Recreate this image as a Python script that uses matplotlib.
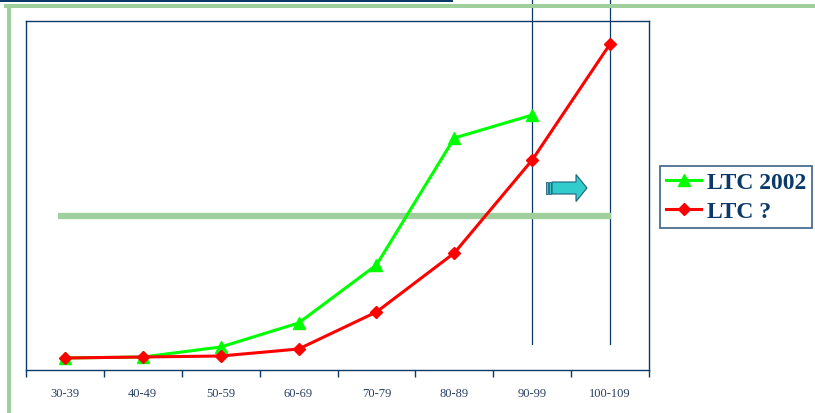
import matplotlib
matplotlib.use("Agg")
import matplotlib.pyplot as plt
import matplotlib.patches as mpatches
from matplotlib.transforms import blended_transform_factory

# age groups and the two curves (arbitrary units)
age_groups = ["30-39", "40-49", "50-59", "60-69", "70-79", "80-89", "90-99", "100-109"]
ltc_2002 = [12, 13, 23, 47, 105, 232, 255]
ltc_new = [12, 13, 14, 21, 58, 117, 210, 326]

NAVY = "#0b3a6a"
PALE_GREEN = "#9fcf9c"

W, H = 815, 414
fig = plt.figure(figsize=(W / 100, H / 100), dpi=100)
fig.patch.set_facecolor("white")


def px(x, y):
    """pixel (from top-left) -> figure fraction"""
    return x / W, 1 - y / H


# slide decoration: navy bar, green rules
fig.add_artist(mpatches.Rectangle((0, 1 - 3 / H), 453 / W, 3 / H, transform=fig.transFigure,
                                  color="#0b3a6a", lw=0))
fig.add_artist(mpatches.Rectangle((4 / W, 1 - 9 / H), 1, 4 / H, transform=fig.transFigure,
                                  color=PALE_GREEN, lw=0))
fig.add_artist(mpatches.Rectangle((7 / W, 0), 4 / W, 1 - 5 / H, transform=fig.transFigure,
                                  color=PALE_GREEN, lw=0))

# plot area
left, right, top, bottom = 26, 649, 22, 371
ax = fig.add_axes([left / W, 1 - bottom / H, (right - left) / W, (bottom - top) / H])
x = list(range(len(age_groups)))

ax.plot(x[:len(ltc_2002)], ltc_2002, color="#00ff00", lw=2.2, marker="^", ms=8,
        mec="#00ff00", mfc="#00ff00", label="LTC 2002", zorder=3)
ax.plot(x, ltc_new, color="#ff0000", lw=2.2, marker="D", ms=6.5,
        mec="#ff0000", mfc="#ff0000", label="LTC ?", zorder=4)

ax.set_xlim(-0.5, len(age_groups) - 0.5)
ax.set_ylim(0, 349)
ax.set_yticks([])
ax.set_xticks([i - 0.5 for i in range(len(age_groups) + 1)])
ax.set_xticklabels([])
ax.tick_params(axis="x", which="major", direction="out", length=5, color=NAVY, width=1)
ax.set_xticks(x, minor=True)
ax.set_xticklabels(age_groups, minor=True, fontsize=9, color="#2a3f66",
                   fontfamily="Liberation Serif")
ax.tick_params(axis="x", which="minor", length=0, pad=12)
for s in ax.spines.values():
    s.set_color(NAVY)
    s.set_linewidth(1)

# horizontal pale green band
ax.plot([-0.09, 7.01], [154, 154], color=PALE_GREEN, lw=4.5, solid_capstyle="butt", zorder=2)

# vertical navy lines through the last two groups, running up past the frame
tr = blended_transform_factory(ax.transData, ax.transAxes)
for xv in (6, 7):
    ax.plot([xv, xv], [0.075, 1.07], transform=tr, color=NAVY, lw=0.9, clip_on=False, zorder=1)

# block arrow
ax0, ay0 = px(552, 189)
ax1, _ = px(587, 189)
fig.add_artist(mpatches.FancyArrow(ax0, ay0, ax1 - ax0, 0, width=12 / H, head_width=27 / H,
                                   head_length=11 / W, length_includes_head=True,
                                   transform=fig.transFigure, fc="#33cccc", ec="#1f5f7a", lw=0.8))
for sx in (546, 549):
    fig.add_artist(mpatches.Rectangle(px(sx, 195), 2 / W, 12 / H, transform=fig.transFigure,
                                      fc="#33cccc", ec="#1f5f7a", lw=0.6))

leg = ax.legend(loc="upper left", bbox_to_anchor=px(660, 167), bbox_transform=fig.transFigure,
                frameon=True, fancybox=False, handlelength=1.5, handletextpad=0.25,
                borderpad=0.25, labelspacing=0.3, borderaxespad=0,
                prop={"family": "Liberation Serif", "weight": "bold", "size": 17})
leg.get_frame().set_edgecolor(NAVY)
leg.get_frame().set_linewidth(1.2)
for t in leg.get_texts():
    t.set_color(NAVY)

fig.savefig("out.png", dpi=100)
